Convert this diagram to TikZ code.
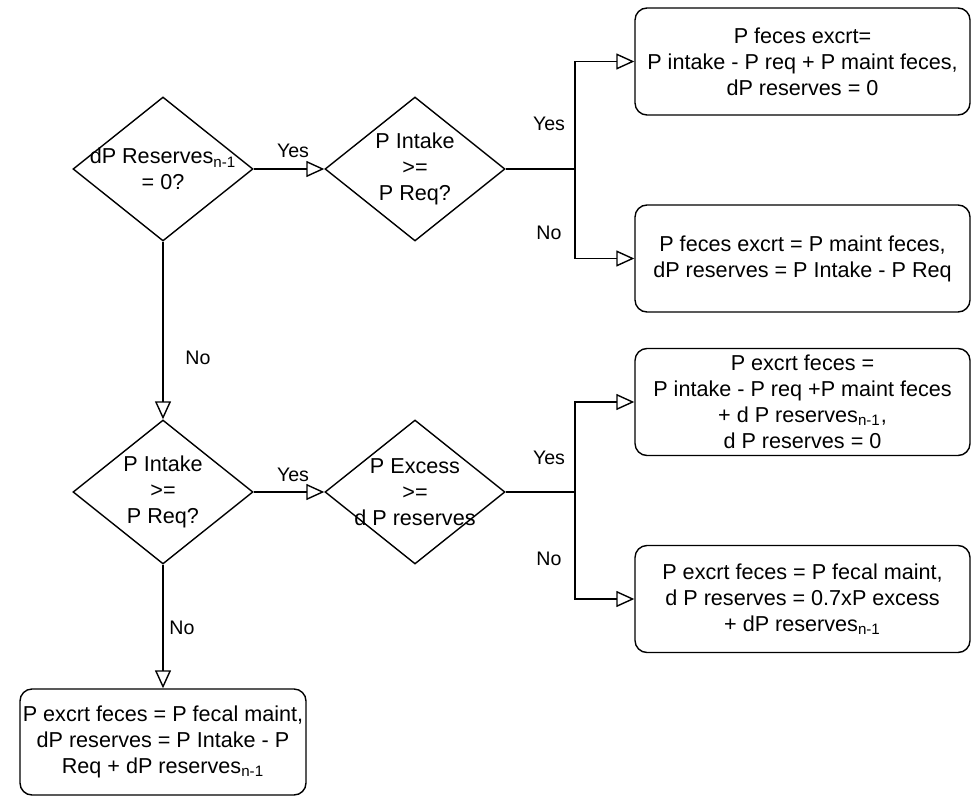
\documentclass[tikz,border=0pt]{standalone}
\usepackage{fontspec}
\setmainfont{Liberation Sans}
\usetikzlibrary{shapes.geometric,arrows.meta,positioning}
\tikzset{
  decision/.style={draw, diamond, line width=0.7pt, minimum width=90pt, minimum height=72pt, inner sep=0pt},
  dtext/.style={align=center, font=\fontsize{10.8}{13}\selectfont},
  result/.style={draw, rounded corners=6pt, line width=0.7pt, minimum width=167.5pt, minimum height=53.5pt, inner sep=0pt, align=center, font=\fontsize{10.8}{13}\selectfont},
  lbl/.style={font=\fontsize{9.8}{12}\selectfont, inner sep=0pt},
  arr/.style={line width=0.7pt, -{Triangle[open, length=9pt, width=8pt]}},
  ln/.style={line width=0.7pt}
}
\begin{document}
\begin{tikzpicture}[x=0.5pt, y=-0.5pt]
    \useasboundingbox (0,0) rectangle (977,796);

    % decisions
    \node(q1)[decision, label={[dtext]center:{dP Reserves\textsubscript{n-1}\\= 0?}}] at (163,169) {};
    \node(q2)[decision, label={[dtext]center:{P Intake\\>=\\P Req?}}] at (415,169) {};
    \node(q3)[decision, label={[dtext]center:{P Intake\\>=\\P Req?}}] at (163,492) {};
    \node(q4)[decision, label={[dtext]center:{P Excess\\>=\\d P reserves}}] at (415,492) {};

    % results
    \node(r1)[result] at (802.5,61.5) {P feces excrt=\\P intake - P req + P maint feces,\\dP reserves = 0};
    \node(r2)[result] at (802.5,258.5) {P feces excrt = P maint feces,\\dP reserves = P Intake - P Req};
    \node(r3)[result] at (802.5,402) {P excrt feces =\\P intake - P req +P maint feces\\+ d P reserves\textsubscript{n-1},\\d P reserves = 0};
    \node(r4)[result] at (802.5,599) {P excrt feces = P fecal maint,\\d P reserves = 0.7xP excess\\+ dP reserves\textsubscript{n-1}};
    \node(r5)[result, minimum width=143pt, minimum height=53pt] at (163,742) {P excrt feces = P fecal maint,\\dP reserves = P Intake - P\\Req + dP reserves\textsubscript{n-1}};

    \coordinate(j1) at (575,169);
    \coordinate(j2) at (575,492);

    \draw[arr] (q1) -- (q2);
    \draw[arr] (q1) -- (q3);
    \draw[arr] (q3) -- (q4);
    \draw[arr] (q3) -- (r5);
    \draw[ln] (q2.east) -- (j1);
    \draw[arr] (j1) |- (r1.west);
    \draw[arr] (j1) |- (r2.west);
    \draw[ln] (q4.east) -- (j2);
    \draw[arr] (j2) |- (r3.west);
    \draw[arr] (j2) |- (r4.west);

    % edge labels
    \node(yes1)[lbl] at (293,151) {Yes};
    \node(no1)[lbl] at (198,358) {No};
    \node(yes2)[lbl] at (549,124) {Yes};
    \node(no2)[lbl] at (549,233) {No};
    \node(yes3)[lbl] at (293,475) {Yes};
    \node(yes4)[lbl] at (549,458) {Yes};
    \node(no3)[lbl] at (549,559) {No};
    \node(no4)[lbl] at (182,628) {No};
\end{tikzpicture}
\end{document}
